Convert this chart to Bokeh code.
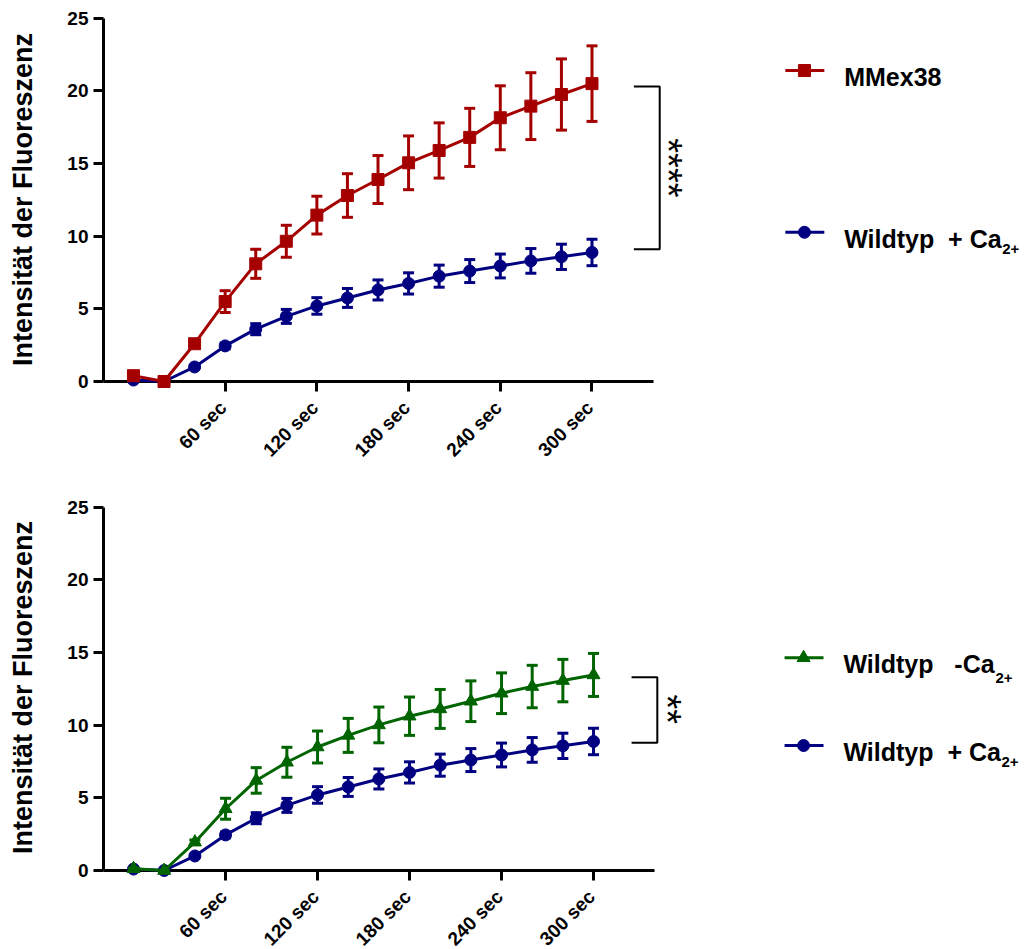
import math
from bokeh.plotting import figure
from bokeh.models import FixedTicker, Range1d, CustomLabelingPolicy
from bokeh.layouts import column
from bokeh.embed import file_html
from bokeh.resources import INLINE
from bokeh.core.properties import value

# ---------------- data ----------------
time_s = [0, 20, 40, 60, 80, 100, 120, 140, 160, 180, 200, 220, 240, 260, 280, 300]

mmex38 = [0.4, 0.0, 2.6, 5.5, 8.1, 9.65, 11.45, 12.8, 13.9, 15.05, 15.9, 16.8, 18.15, 18.95, 19.75, 20.5]
mmex38_err = [0.1, 0.05, 0.2, 0.75, 1.0, 1.1, 1.3, 1.5, 1.65, 1.85, 1.9, 2.0, 2.2, 2.3, 2.45, 2.6]

wt_plus_ca = [0.1, 0.0, 1.0, 2.45, 3.6, 4.48, 5.2, 5.75, 6.3, 6.75, 7.25, 7.6, 7.95, 8.3, 8.58, 8.88]
wt_plus_ca_err = [0.05, 0.02, 0.1, 0.2, 0.38, 0.48, 0.57, 0.65, 0.69, 0.73, 0.76, 0.79, 0.82, 0.85, 0.87, 0.91]

wt_minus_ca = [0.12, 0.0, 1.95, 4.25, 6.2, 7.45, 8.5, 9.3, 10.02, 10.62, 11.12, 11.65, 12.2, 12.66, 13.07, 13.46]
wt_minus_ca_err = [0.05, 0.02, 0.15, 0.72, 0.88, 1.03, 1.1, 1.17, 1.23, 1.32, 1.34, 1.4, 1.4, 1.46, 1.46, 1.48]

x_ticks = [60, 120, 180, 240, 300]
x_tick_labels = ["60 sec", "120 sec", "180 sec", "240 sec", "300 sec"]
y_ticks = [0, 5, 10, 15, 20, 25]
y_label = "Intensität der Fluoreszenz"

label_mmex = "MMex38"
label_wt_plus = "Wildtyp\u00a0\u00a0+ Ca"
label_wt_minus = "Wildtyp\u00a0\u00a0\u00a0-Ca"
label_sub = "2+"

sig_top = "****"
sig_bottom = "**"

# ---------------- style ----------------
FONT = "Liberation Sans"
RED = "#A50000"
BLUE = "#000080"
GREEN = "#006400"

HIDE_LABELS = CustomLabelingPolicy(code="""
for (const i of Array.from(indices)) { indices.unset(i) }
return indices
""")


def style_axes(p):
    p.outline_line_color = None
    p.xgrid.visible = False
    p.ygrid.visible = False
    xa = p.xaxis[0]
    xa.ticker = FixedTicker(ticks=x_ticks)
    xa.bounds = (-19.6, 340)
    xa.major_label_policy = HIDE_LABELS
    ya = p.yaxis[0]
    ya.ticker = FixedTicker(ticks=y_ticks)
    ya.bounds = (0, 25)
    ya.axis_label = y_label
    ya.axis_label_text_font = FONT
    ya.axis_label_text_font_style = "bold"
    ya.axis_label_text_font_size = "27px"
    ya.axis_label_text_color = "black"
    ya.axis_label_standoff = 26
    ya.major_label_text_font = FONT
    ya.major_label_text_font_style = "bold"
    ya.major_label_text_font_size = "19px"
    ya.major_label_text_color = "black"
    ya.major_label_standoff = 5
    for ax in (xa, ya):
        ax.axis_line_width = 3
        ax.axis_line_color = "black"
        ax.major_tick_line_width = 3
        ax.major_tick_line_color = "black"
        ax.major_tick_in = 0
        ax.major_tick_out = 10
        ax.minor_tick_line_color = None
    # rotated x tick labels, placed at the tick positions
    p.text(x=x_ticks, y=[0] * len(x_ticks), text=x_tick_labels, angle=math.pi / 4,
           x_offset=-2, y_offset=23, text_align="right", text_baseline="middle",
           text_font=value(FONT), text_font_style="bold", text_font_size="19px",
           text_color="black", level="overlay")


def draw_series(p, y, err, color, marker, size):
    lo = [a - b for a, b in zip(y, err)]
    hi = [a + b for a, b in zip(y, err)]
    p.line(time_s, y, line_width=3, color=color, level="overlay")
    p.segment(time_s, lo, time_s, hi, line_width=3, color=color, level="overlay")
    p.scatter(time_s, lo, marker="dash", size=11, line_width=3, color=color, level="overlay")
    p.scatter(time_s, hi, marker="dash", size=11, line_width=3, color=color, level="overlay")
    p.scatter(time_s, y, marker=marker, size=size, color=color, level="overlay")


def legend_item(p, xl0, xl1, xm, xt, yl, ybase, color, marker, size, label, sub=None, sub_off=0, ysub=None):
    p.line([xl0, xl1], [yl, yl], line_width=3, color=color)
    p.scatter([xm], [yl], marker=marker, size=size, color=color)
    p.text(x=[xt], y=[ybase], text=[label], text_font=value(FONT), text_font_style="bold",
           text_font_size="25px", text_color="black", text_align="left", text_baseline="alphabetic")
    if sub:
        p.text(x=[xt], y=[ysub], text=[sub], x_offset=sub_off, text_font=value(FONT),
               text_font_style="bold", text_font_size="15px", text_color="black",
               text_align="left", text_baseline="alphabetic")


def bracket(p, x0, x1, y_hi, y_lo, xs, ys, stars):
    p.line([x0, x1, x1, x0], [y_hi, y_hi, y_lo, y_lo], line_width=2, color="black")
    p.text(x=[xs], y=[ys], text=[stars], angle=-math.pi / 2, text_font=value(FONT),
           text_font_size="38px", text_color="black", text_align="center", text_baseline="middle")


# ---------------- top panel ----------------
p1 = figure(width=1032, height=470, x_range=Range1d(-19.6, 588.2), y_range=Range1d(0, 25.05),
            output_backend="svg", toolbar_location=None,
            min_border_left=100, min_border_right=0, min_border_top=17, min_border_bottom=89)
style_axes(p1)
draw_series(p1, wt_plus_ca, wt_plus_ca_err, BLUE, "circle", 12)
draw_series(p1, mmex38, mmex38_err, RED, "square", 12)
bracket(p1, 327.4, 344.3, 20.3, 9.1, 349.8, 14.7, sig_top)
legend_item(p1, 426.5, 452.0, 439.0, 465.0, 21.40, 20.94, RED, "square", 12, label_mmex)
legend_item(p1, 426.5, 452.0, 439.0, 465.0, 10.27, 9.83, BLUE, "circle", 12, label_wt_plus,
            sub=label_sub, sub_off=158, ysub=9.13)

# ---------------- bottom panel ----------------
p2 = figure(width=1032, height=479, x_range=Range1d(-19.6, 586.3), y_range=Range1d(0, 25.19),
            output_backend="svg", toolbar_location=None,
            min_border_left=103, min_border_right=0, min_border_top=34, min_border_bottom=79)
style_axes(p2)
draw_series(p2, wt_plus_ca, wt_plus_ca_err, BLUE, "circle", 12)
draw_series(p2, wt_minus_ca, wt_minus_ca_err, GREEN, "triangle", 13)
bracket(p2, 324.8, 341.6, 13.3, 8.79, 347.8, 11.1, sig_bottom)
legend_item(p2, 424.6, 450.0, 437.0, 463.0, 14.64, 14.19, GREEN, "triangle", 13, label_wt_minus,
            sub=label_sub, sub_off=152, ysub=13.28)
legend_item(p2, 424.6, 450.0, 437.0, 463.0, 8.60, 8.16, BLUE, "circle", 12, label_wt_plus,
            sub=label_sub, sub_off=158, ysub=7.46)

layout = column(p1, p2, spacing=0)
open("out.html", "w").write(file_html(layout, INLINE))
